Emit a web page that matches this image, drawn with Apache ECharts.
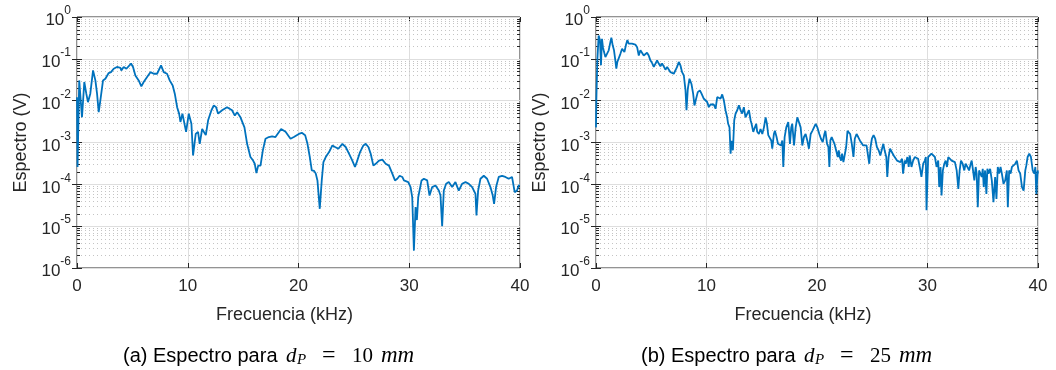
<!DOCTYPE html>
<html>
<head>
<meta charset="utf-8">
<script src="https://cdn.jsdelivr.net/npm/echarts@6/dist/echarts.min.js"></script>
<style>
  html, body { margin: 0; padding: 0; background: #ffffff; }
  #chart { width: 1056px; height: 370px; }
</style>
</head>
<body>
<div id="chart"></div>
<script>
// Spectrum magnitude (V) against frequency (kHz), [kHz, V] pairs.
const espectro10mm = [
  [0, 0.012], [0.05, 2.6e-4], [0.2, 0.0305], [0.45, 4.0e-3], [0.66, 0.028], [0.84, 0.0147], [0.99, 9.2e-3], [1.2, 0.0147], [1.45, 0.053], [1.66, 0.0305],
  [1.81, 0.0147], [1.96, 5.3e-3], [2.11, 0.0102], [2.35, 0.0305], [2.56, 0.0335], [2.71, 0.0305], [2.86, 0.0457], [3.07, 0.048], [3.31, 0.058], [3.61, 0.064],
  [3.92, 0.061], [4.0, 0.053], [4.22, 0.064], [4.46, 0.058], [4.88, 0.077], [5.06, 0.064], [5.27, 0.040], [5.57, 0.0305], [5.81, 0.022], [6.02, 0.028],
  [6.33, 0.037], [6.63, 0.048], [6.93, 0.044], [7.23, 0.044], [7.59, 0.070], [7.83, 0.048], [8.13, 0.044], [8.37, 0.0305], [8.64, 0.023], [8.83, 0.0147],
  [9.04, 7.0e-3], [9.22, 4.9e-3], [9.34, 3.1e-3], [9.52, 4.9e-3], [9.85, 1.8e-3], [10.09, 4.9e-3], [10.24, 5.3e-3], [10.33, 2.8e-3], [10.48, 4.9e-4], [10.72, 1.6e-3],
  [10.93, 1.8e-3], [11.08, 9.3e-4], [11.3, 2.1e-3], [11.45, 2.1e-3], [11.63, 1.5e-3], [11.84, 3.4e-3], [12.14, 5.9e-3], [12.35, 7.7e-3], [12.56, 7.0e-3], [12.74, 4.9e-3],
  [13.1, 5.9e-3], [13.55, 7.0e-3], [13.7, 7.3e-3], [14.0, 5.9e-3], [14.25, 4.4e-3], [14.46, 5.3e-3], [14.76, 4.0e-3], [15.12, 2.3e-3], [15.36, 9.3e-4], [15.66, 4.5e-4],
  [15.9, 3.7e-4], [16.05, 3.1e-4], [16.2, 1.85e-4], [16.36, 2.8e-4], [16.57, 2.8e-4], [16.78, 6.5e-4], [17.02, 1.23e-3], [17.32, 1.35e-3], [17.62, 1.4e-3], [17.77, 1.5e-3],
  [17.92, 1.35e-3], [18.43, 2.1e-3], [18.83, 1.8e-3], [19.28, 1.23e-3], [19.58, 1.35e-3], [20.03, 1.6e-3], [20.3, 1.7e-3], [20.6, 1.5e-3], [20.81, 9.3e-4], [21.02, 4.5e-4],
  [21.2, 2.15e-4], [21.41, 2.1e-4], [21.56, 1.8e-4], [21.71, 1.24e-4], [21.92, 2.6e-5], [22.1, 1.24e-4], [22.25, 3.4e-4], [22.46, 4.5e-4], [22.76, 5.9e-4], [23.06, 8.5e-4],
  [23.3, 7.8e-4], [23.6, 7.1e-4], [23.96, 9.3e-4], [24.26, 7.8e-4], [24.56, 5.4e-4], [24.86, 3.7e-4], [25.1, 2.6e-4], [25.26, 3.4e-4], [25.56, 5.9e-4], [25.86, 8.5e-4],
  [26.07, 9.3e-4], [26.31, 7.8e-4], [26.52, 5.4e-4], [26.76, 2.8e-4], [26.97, 3.1e-4], [27.27, 3.7e-4], [27.57, 3.9e-4], [27.87, 3.1e-4], [28.17, 2.8e-4], [28.47, 1.8e-4],
  [28.71, 1.24e-4], [28.92, 1.36e-4], [29.13, 1.6e-4], [29.37, 1.5e-4], [29.52, 1.24e-4], [29.67, 1.24e-4], [29.91, 1.13e-4], [30.12, 8.6e-5], [30.27, 4.9e-5], [30.42, 2.6e-6],
  [30.57, 2.85e-5], [30.69, 1.4e-5], [30.81, 4.9e-5], [31.11, 1.24e-4], [31.32, 1.36e-4], [31.62, 1.24e-4], [31.83, 5.4e-5], [32.07, 8.6e-5], [32.37, 9.4e-5], [32.67, 7.1e-5],
  [32.82, 5.4e-5], [32.97, 1.0e-5], [33.12, 7.1e-5], [33.33, 1.03e-4], [33.57, 1.13e-4], [33.87, 8.6e-5], [34.17, 1.13e-4], [34.47, 7.1e-5], [34.77, 1.03e-4], [35.08, 1.13e-4],
  [35.38, 1.03e-4], [35.68, 8.6e-5], [35.98, 5.9e-5], [36.07, 1.8e-5], [36.22, 7.1e-5], [36.43, 1.36e-4], [36.73, 1.6e-4], [37.03, 1.36e-4], [37.33, 8.6e-5], [37.54, 5.4e-5],
  [37.66, 3.4e-5], [37.84, 8.6e-5], [38.08, 1.5e-4], [38.38, 1.6e-4], [38.68, 1.5e-4], [38.98, 1.36e-4], [39.28, 1.5e-4], [39.52, 6.5e-5], [39.73, 7.1e-5], [39.88, 9.4e-5],
  [40, 9.4e-5]
];

const espectro25mm = [
  [0, 2.3e-3], [0.03, 0.010], [0.12, 0.092], [0.24, 0.36], [0.36, 0.28], [0.45, 0.070], [0.54, 0.30], [0.63, 0.19], [0.73, 0.145], [0.85, 0.11],
  [1.0, 0.10], [1.15, 0.16], [1.3, 0.25], [1.39, 0.32], [1.51, 0.21], [1.63, 0.16], [1.75, 0.092], [1.84, 0.058], [1.93, 0.084], [2.05, 0.092],
  [2.2, 0.13], [2.36, 0.175], [2.45, 0.16], [2.57, 0.145], [2.72, 0.22], [2.84, 0.28], [2.96, 0.23], [3.11, 0.21], [3.26, 0.23], [3.41, 0.24],
  [3.56, 0.22], [3.72, 0.19], [3.87, 0.12], [4.02, 0.16], [4.17, 0.175], [4.32, 0.12], [4.47, 0.13], [4.62, 0.14], [4.77, 0.12], [4.92, 0.092],
  [5.08, 0.079], [5.23, 0.064], [5.38, 0.077], [5.53, 0.092], [5.68, 0.077], [5.83, 0.066], [5.98, 0.077], [6.13, 0.066], [6.28, 0.055], [6.44, 0.064],
  [6.59, 0.058], [6.74, 0.048], [6.89, 0.044], [7.04, 0.044], [7.19, 0.048], [7.34, 0.064], [7.49, 0.084], [7.64, 0.070], [7.79, 0.048], [7.95, 0.040],
  [8.1, 0.0176], [8.19, 5.9e-3], [8.31, 0.0193], [8.46, 0.0335], [8.64, 0.025], [8.79, 0.0147], [8.91, 7.7e-3], [9.06, 0.0111], [9.21, 0.016], [9.4, 0.0176],
  [9.55, 0.0147], [9.76, 0.0111], [9.91, 0.0102], [10.06, 9.3e-3], [10.21, 7.0e-3], [10.36, 8.1e-3], [10.51, 7.7e-3], [10.66, 8.1e-3], [10.82, 6.4e-3], [10.97, 0.0122],
  [11.12, 0.0134], [11.27, 0.0111], [11.42, 0.0141], [11.57, 0.0102], [11.72, 5.9e-3], [11.87, 4.0e-3], [11.96, 2.8e-3], [12.08, 2.3e-3], [12.18, 5.4e-4], [12.27, 1.1e-3],
  [12.39, 6.5e-4], [12.51, 3.4e-3], [12.63, 4.9e-3], [12.78, 5.9e-3], [12.93, 7.7e-3], [13.08, 5.9e-3], [13.23, 4.9e-3], [13.38, 7.0e-3], [13.53, 4.0e-3], [13.69, 4.9e-3],
  [13.84, 5.9e-3], [13.99, 3.4e-3], [14.08, 2.8e-3], [14.23, 1.8e-3], [14.35, 1.9e-3], [14.5, 2.8e-3], [14.59, 1.8e-3], [14.74, 1.6e-3], [14.89, 2.1e-3], [15.05, 1.6e-3],
  [15.2, 2.3e-3], [15.35, 4.0e-3], [15.47, 2.8e-3], [15.59, 1.5e-3], [15.74, 1.35e-3], [15.86, 1.12e-3], [15.95, 7.1e-4], [16.1, 1.6e-3], [16.19, 1.9e-3], [16.34, 1.35e-3],
  [16.47, 9.3e-4], [16.62, 1.02e-3], [16.74, 8.5e-4], [16.86, 1.12e-3], [16.95, 2.6e-4], [17.07, 1.35e-3], [17.22, 2.3e-3], [17.4, 3.1e-3], [17.55, 9.3e-4], [17.67, 2.3e-3],
  [17.76, 2.8e-3], [17.92, 8.5e-4], [18.07, 2.3e-3], [18.22, 4.0e-3], [18.37, 4.4e-3], [18.52, 2.3e-3], [18.67, 8.5e-4], [18.82, 1.35e-3], [18.97, 1.6e-3], [19.12, 1.12e-3],
  [19.27, 7.1e-4], [19.43, 1.6e-3], [19.58, 1.9e-3], [19.73, 1.8e-3], [19.88, 2.8e-3], [20.03, 2.3e-3], [20.21, 1.6e-3], [20.36, 1.23e-3], [20.52, 1.02e-3], [20.67, 1.6e-3],
  [20.76, 1.9e-3], [20.91, 9.3e-4], [21.03, 7.8e-4], [21.12, 2.6e-4], [21.21, 1.12e-3], [21.33, 1.35e-3], [21.45, 1.12e-3], [21.58, 9.3e-4], [21.73, 8.5e-4], [21.88, 4.5e-4],
  [21.97, 6.5e-4], [22.06, 4.5e-4], [22.18, 3.7e-4], [22.27, 5.4e-4], [22.39, 3.4e-4], [22.48, 3.7e-4], [22.64, 7.8e-4], [22.76, 1.9e-3], [22.88, 2.0e-3], [23.0, 1.6e-3],
  [23.15, 9.3e-4], [23.3, 4.5e-4], [23.42, 1.23e-3], [23.58, 1.6e-3], [23.73, 1.35e-3], [23.88, 1.12e-3], [24.03, 1.02e-3], [24.18, 8.5e-4], [24.33, 7.8e-4], [24.48, 8.5e-4],
  [24.61, 9.3e-4], [24.73, 3.1e-4], [24.85, 7.8e-4], [24.97, 1.23e-3], [25.12, 1.5e-3], [25.27, 1.23e-3], [25.42, 7.8e-4], [25.58, 6.5e-4], [25.73, 4.9e-4], [25.88, 4.5e-4],
  [26.0, 9.3e-4], [26.12, 6.5e-4], [26.27, 4.5e-4], [26.36, 1.5e-4], [26.48, 4.5e-4], [26.61, 7.1e-4], [26.79, 6.5e-4], [26.94, 4.9e-4], [27.09, 4.5e-4], [27.24, 3.7e-4],
  [27.39, 4.1e-4], [27.55, 3.4e-4], [27.7, 4.1e-4], [27.79, 1.8e-4], [27.94, 3.7e-4], [28.03, 3.1e-4], [28.18, 4.5e-4], [28.3, 2.6e-4], [28.39, 4.9e-4], [28.55, 2.6e-4],
  [28.7, 3.7e-4], [28.85, 4.5e-4], [29.0, 4.9e-4], [29.15, 4.1e-4], [29.3, 2.6e-4], [29.45, 1.5e-4], [29.61, 3.1e-4], [29.76, 3.7e-4], [29.85, 4.5e-4], [29.91, 2.4e-5],
  [30.06, 4.5e-4], [30.21, 4.9e-4], [30.36, 5.4e-4], [30.52, 5.9e-4], [30.67, 4.5e-4], [30.82, 2.6e-4], [30.97, 3.7e-4], [31.06, 8.6e-5], [31.18, 2.6e-4], [31.27, 5.4e-5],
  [31.39, 2.15e-4], [31.52, 3.1e-4], [31.64, 3.7e-4], [31.76, 2.6e-4], [31.88, 4.5e-4], [32.03, 4.5e-4], [32.18, 3.7e-4], [32.33, 4.1e-4], [32.48, 3.4e-4], [32.64, 2.15e-4],
  [32.79, 7.8e-5], [32.91, 2.15e-4], [33.03, 3.7e-4], [33.18, 3.1e-4], [33.33, 2.15e-4], [33.45, 3.1e-4], [33.61, 2.6e-4], [33.76, 2.15e-4], [33.91, 3.1e-4], [34.0, 3.7e-4],
  [34.12, 2.15e-4], [34.24, 1.24e-4], [34.36, 2.6e-4], [34.45, 1.8e-4], [34.55, 2.85e-5], [34.67, 2.15e-4], [34.79, 2.35e-4], [34.91, 1.5e-4], [35.0, 2.35e-4], [35.09, 8.6e-5],
  [35.21, 2.15e-4], [35.33, 5.9e-5], [35.42, 2.35e-4], [35.52, 1.8e-4], [35.67, 2.35e-4], [35.82, 1.24e-4], [35.97, 3.75e-5], [36.12, 1.5e-4], [36.24, 4.5e-5], [36.36, 2.6e-4],
  [36.48, 1.8e-4], [36.61, 2.6e-4], [36.73, 1.8e-4], [36.88, 1.03e-4], [37.03, 1.24e-4], [37.18, 2.15e-4], [37.27, 2.85e-5], [37.39, 2.15e-4], [37.52, 1.8e-4], [37.64, 2.6e-4],
  [37.79, 2.8e-4], [37.94, 3.1e-4], [38.09, 3.7e-4], [38.24, 2.15e-4], [38.39, 1.8e-4], [38.55, 8.6e-5], [38.7, 7.1e-5], [38.85, 2.15e-4], [38.94, 2.8e-4], [39.06, 4.5e-4],
  [39.21, 5.4e-4], [39.36, 4.5e-4], [39.52, 2.15e-4], [39.67, 1.8e-4], [39.76, 2.6e-4], [39.85, 5.9e-5], [39.97, 2.15e-4], [40, 1.8e-4]
];

// Axis ranges and labels
const freqRange = [0, 40];
const freqStep = 10;
const specRange = [1e-6, 1];
const xName = 'Frecuencia (kHz)';
const yName = 'Espectro (V)';
const captionLetters = ['(a)', '(b)'];
const diametersMm = ['10', '25'];

// Minor log ticks (2..9 in every decade) for the dotted minor grid
const minorTicks = [];
for (let e = -6; e < 0; e++) {
  for (let m = 2; m <= 9; m++) minorTicks.push([0, m * Math.pow(10, e)]);
}

const INK = '#262626';
const FONT = '"Liberation Sans", Arial, Helvetica, sans-serif';
const SERIF = '"Liberation Serif", "DejaVu Serif", serif';
const LINE_BLUE = '#0072BD';

const panels = [
  { left: 77, width: 443, data: espectro10mm, capLeft: 123 },
  { left: 596, width: 442, data: espectro25mm, capLeft: 641 }
];
const TOP = 17, HEIGHT = 251, CAPTION_Y = 356;

const grids = [], xAxes = [], yAxes = [], series = [], graphics = [];

// one caption piece: text placed at an offset from the caption's left edge
function captionPiece(dx, dy, text, font, size, italic) {
  return {
    type: 'text', x: dx, y: dy,
    style: {
      text: text, fill: '#000000',
      font: (italic ? 'italic ' : '') + size + 'px ' + font,
      textAlign: 'left', textVerticalAlign: 'middle'
    }
  };
}

panels.forEach((p, i) => {
  grids.push({
    left: p.left, top: TOP, width: p.width, height: HEIGHT,
    show: true, borderColor: INK, borderWidth: 1, backgroundColor: 'transparent'
  });
  // bottom x axis (labels, ticks, grid)
  xAxes.push({
    gridIndex: i, type: 'value', position: 'bottom',
    min: freqRange[0], max: freqRange[1], interval: freqStep,
    name: xName, nameLocation: 'middle', nameGap: 38,
    nameTextStyle: { fontFamily: FONT, fontSize: 18, color: INK, padding: [0, 28, 0, 0] },
    axisLine: { show: false },
    axisTick: { show: true, inside: true, length: 5, lineStyle: { color: INK } },
    axisLabel: { fontFamily: FONT, fontSize: 17, color: INK, margin: 10 },
    splitLine: { show: true, lineStyle: { color: '#dedede', width: 1 } }
  });
  // top x axis (ticks only)
  xAxes.push({
    gridIndex: i, type: 'value', position: 'top',
    min: freqRange[0], max: freqRange[1], interval: freqStep,
    axisLine: { show: false },
    axisTick: { show: true, inside: true, length: 5, lineStyle: { color: INK } },
    axisLabel: { show: false }, splitLine: { show: false }
  });
  // left log axis
  yAxes.push({
    gridIndex: i, type: 'log', logBase: 10, position: 'left',
    min: specRange[0], max: specRange[1], splitNumber: 6,
    name: yName, nameLocation: 'middle', nameGap: 47,
    nameTextStyle: { fontFamily: FONT, fontSize: 18, color: INK },
    axisLine: { show: false },
    axisTick: { show: true, inside: true, length: 5, lineStyle: { color: INK } },
    axisLabel: {
      margin: 6,
      formatter: v => '{b|10}{s|' + Math.round(Math.log10(v)) + '}',
      rich: {
        b: { fontFamily: FONT, fontSize: 17, color: INK, verticalAlign: 'bottom', lineHeight: 24 },
        s: { fontFamily: FONT, fontSize: 12, color: INK, verticalAlign: 'top', lineHeight: 24 }
      }
    },
    splitLine: { show: true, lineStyle: { color: '#dedede', width: 1 } }
  });
  // right log axis (ticks only)
  yAxes.push({
    gridIndex: i, type: 'log', logBase: 10, position: 'right',
    min: specRange[0], max: specRange[1], splitNumber: 6,
    axisLine: { show: false },
    axisTick: { show: true, inside: true, length: 5, lineStyle: { color: INK } },
    axisLabel: { show: false }, splitLine: { show: false }
  });

  // dotted minor grid with minor ticks on both vertical edges
  series.push({
    type: 'custom', xAxisIndex: 2 * i, yAxisIndex: 2 * i, silent: true, z: 1,
    data: minorTicks,
    renderItem: (params, api) => {
      const cs = params.coordSys;
      const y = Math.round(api.coord([0, api.value(1)])[1]) + 0.5;
      const x0 = cs.x, x1 = cs.x + cs.width;
      return {
        type: 'group',
        children: [
          { type: 'line', shape: { x1: x0, y1: y, x2: x1, y2: y }, style: { stroke: '#c4c4c4', lineWidth: 1, lineDash: [1, 3] } },
          { type: 'line', shape: { x1: x0, y1: y, x2: x0 + 3, y2: y }, style: { stroke: INK, lineWidth: 1 } },
          { type: 'line', shape: { x1: x1 - 3, y1: y, x2: x1, y2: y }, style: { stroke: INK, lineWidth: 1 } }
        ]
      };
    }
  });

  // spectrum trace
  series.push({
    type: 'line', xAxisIndex: 2 * i, yAxisIndex: 2 * i, z: 3,
    data: p.data, showSymbol: false, symbol: 'none',
    lineStyle: { color: LINE_BLUE, width: 1.8 },
    clip: true
  });

  // caption under each panel: "(x) Espectro para d_P = NN mm"
  graphics.push({
    type: 'group', x: p.capLeft, y: CAPTION_Y,
    children: [
      captionPiece(0, 0, captionLetters[i] + ' Espectro para', FONT, 20, false),
      captionPiece(163, 0, 'd', SERIF, 21, true),
      captionPiece(174, 4, 'P', SERIF, 15, true),
      captionPiece(199, 0, '=', SERIF, 24, false),
      captionPiece(229, 0, diametersMm[i], SERIF, 21, false),
      captionPiece(258, 0, 'mm', SERIF, 23, true)
    ]
  });
});

const chart = echarts.init(document.getElementById('chart'), null, { renderer: 'canvas' });
chart.setOption({
  animation: false,
  backgroundColor: '#ffffff',
  grid: grids,
  xAxis: xAxes,
  yAxis: yAxes,
  series: series,
  graphic: graphics
});
</script>
</body>
</html>
